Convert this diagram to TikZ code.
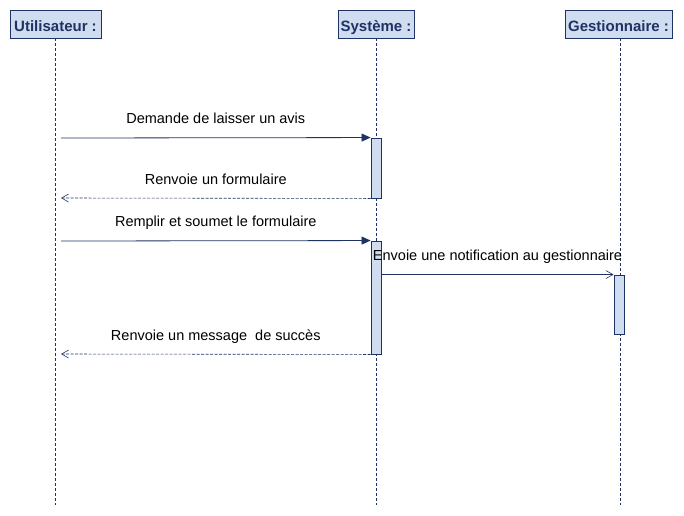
\documentclass[tikz,border=0pt]{standalone}
\usepackage{fontspec}
\setmainfont{Liberation Sans}
\usetikzlibrary{arrows.meta}
\definecolor{umlline}{RGB}{31,50,100}
\definecolor{umlfill}{RGB}{208,220,240}
\tikzset{actor/.style={draw=umlline, fill=umlfill, line width=0.9pt,
		font=\bfseries\fontsize{15}{18}\selectfont, text=umlline,
		minimum height=28pt, inner sep=0pt, text height=14pt, text depth=0pt},
	lifeline/.style={draw=umlline, line width=0.6pt, dash pattern=on 3pt off 2pt},
	actbox/.style={draw=umlline, fill=umlfill, line width=0.9pt,
		minimum width=10pt, inner sep=0pt},
	call/.style={draw=umlline, line width=0.8pt, -{Triangle[length=9pt,width=8pt]}},
	reply/.style={draw=umlline, line width=0.6pt, dash pattern=on 3pt off 1.5pt,
		-{Straight Barb[length=7pt,width=8pt,line width=0.6pt]}},
	notify/.style={draw=umlline, line width=0.8pt,
		-{Straight Barb[length=7pt,width=8pt,line width=0.6pt]}},
	msg/.style={font=\fontsize{14.5}{17}\selectfont, text=black, anchor=base,
		yshift=14pt, inner sep=0pt}}

\begin{document}
\begin{tikzpicture}[x=1pt,y=-1pt]
		\useasboundingbox (0,0) rectangle (684,515);
		% lifelines
		\node[actor, minimum width=91pt] (user) at (55.5,24){Utilisateur :};
		\node[actor, minimum width=76pt] (sys) at (376,24){Système :};
		\node[actor, minimum width=107pt] (gest) at (618.5,24){Gestionnaire :};
		\coordinate (userend) at (55,505);
		\coordinate (sysend) at (376,505);
		\coordinate (gestend) at (620,505);
		\draw[lifeline] (user.south -| userend) -- (userend);
		\draw[lifeline] (sys.south -| sysend) -- (sysend);
		\draw[lifeline] (gest.south -| gestend) -- (gestend);
		% activations
		\node[actbox, minimum height=60pt] (act1) at (376,168){};
		\node[actbox, minimum height=113pt] (act2) at (376,297.5){};
		\node[actbox, minimum height=59pt] (act3) at (619,304.5){};
		% messages
		\coordinate (ask) at (61,138);
		\coordinate (form) at (61,198);
		\coordinate (fill) at (61,241);
		\coordinate (done) at (61,354);
		\draw[call] (ask) to node[msg]{Demande de laisser un avis} (act1.north west);
		\draw[reply] (act1.south west) to node[msg]{Renvoie un formulaire} (form);
		\draw[call] (fill) to node[msg]{Remplir et soumet le formulaire} (act2.north west);
		\draw[notify] (act2.east |- act3.north) to node[msg]{Envoie une notification au gestionnaire} (act3.north west);
		\draw[reply] (act2.south west) to node[msg]{Renvoie un message\ \ de succès} (done);
\end{tikzpicture}
\end{document}
